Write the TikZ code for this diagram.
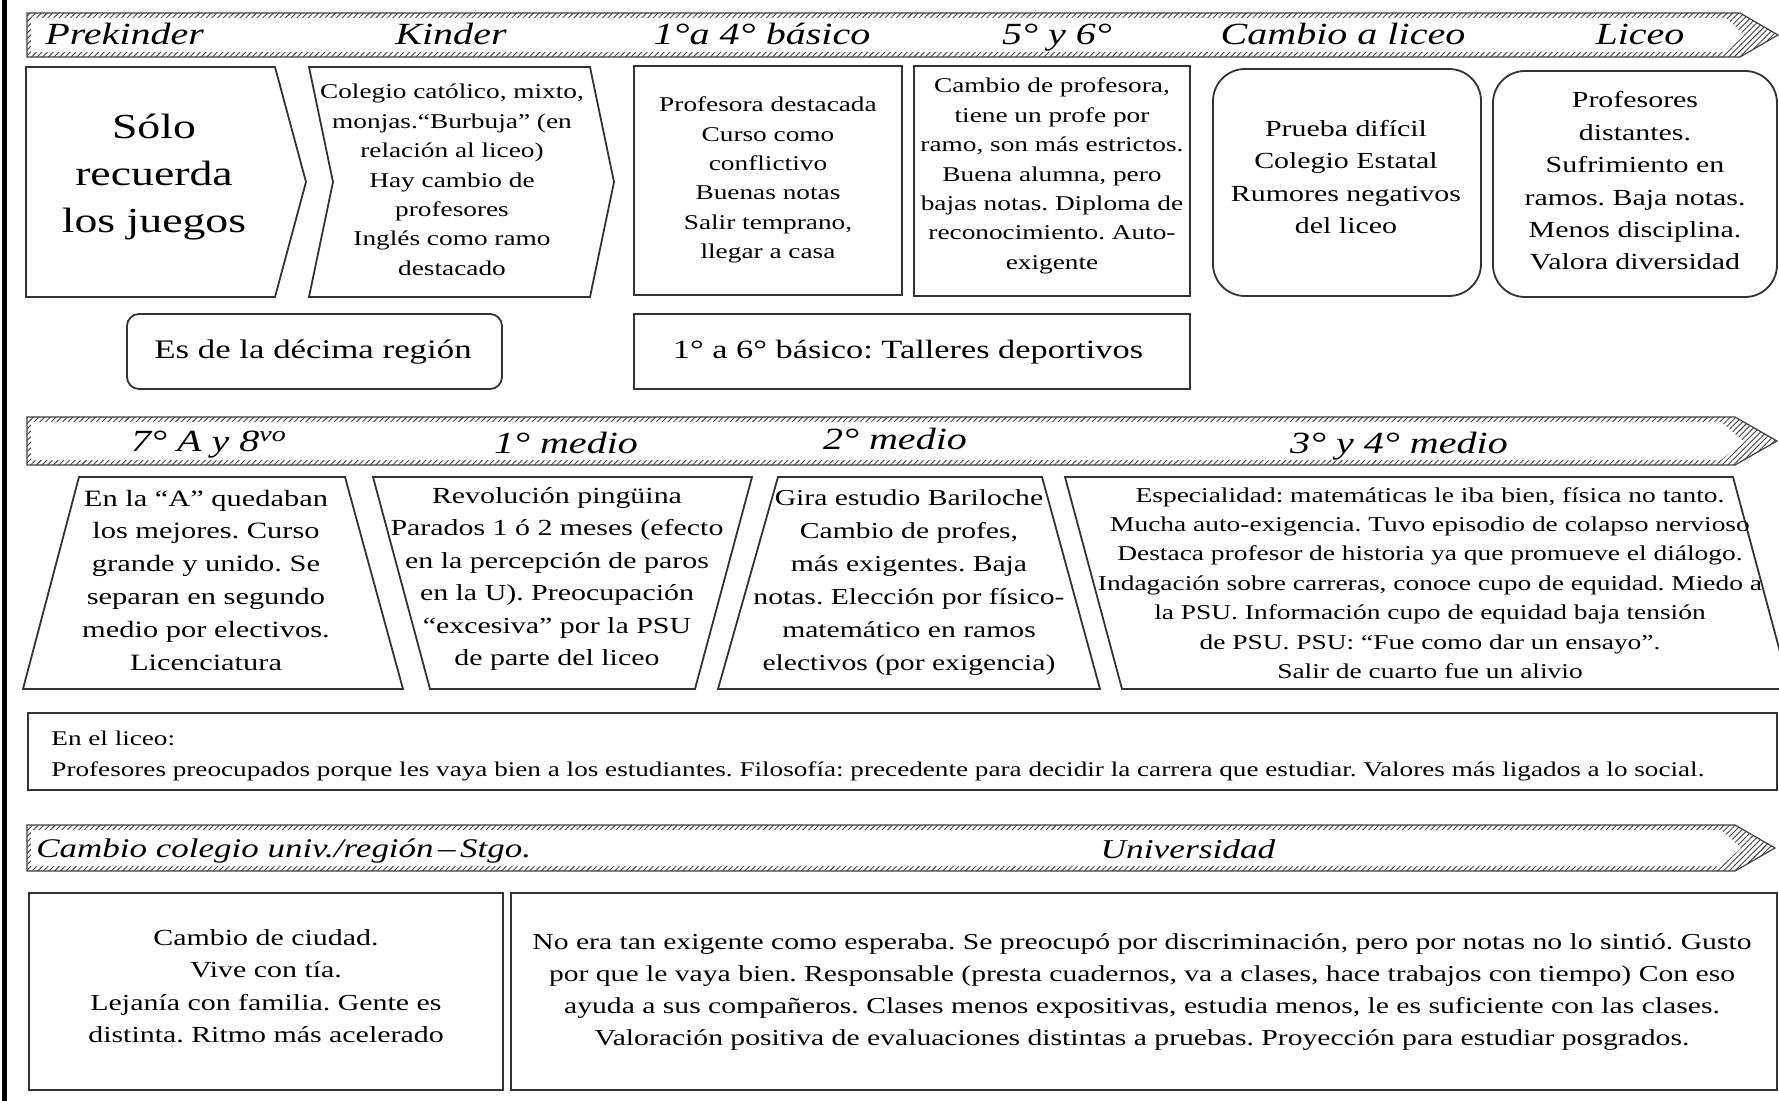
\documentclass[tikz,border=0pt]{standalone}
\usepackage{fontspec}
\setmainfont{Liberation Serif}[FakeStretch=1.3]
\usetikzlibrary{patterns.meta}
\frenchspacing

\begin{document}
\begin{tikzpicture}[x=0.5pt,y=-0.5pt,
  box/.style={draw=black!80,line width=0.9pt},
  band/.style={pattern={Lines[angle=45,distance=2pt,line width=0.45pt]},pattern color=black!75},
  head/.style={font=\fontsize{15.4}{18}\selectfont\itshape,inner sep=0pt,anchor=base},
  txt/.style={align=center,inner sep=0pt,font=\fontsize{10.5}{14.7}\selectfont},
  txtb/.style={align=center,inner sep=0pt,font=\fontsize{11.5}{16.2}\selectfont}]
\useasboundingbox (0,0) rectangle (1779,1101);
\draw[line width=2.5pt] (4.5,0) -- (4.5,1101);

% three time bands
\foreach \yt/\ym/\yb/\xe/\xt in {13/35/57/1740/1778, 417/441/465/1735/1777, 825/848/871/1735/1775}{
  \fill[band] (27,\yt) -- (\xe,\yt) -- (\xt,\ym) -- (\xe,\yb) -- (27,\yb) -- cycle;
  \fill[white] (31,\yt+5) -- (\xe-14,\yt+5) -- (\xt-34,\ym) -- (\xe-14,\yb-5) -- (31,\yb-5) -- cycle;
  \draw[black!75,line width=0.6pt] (27,\yt) -- (\xe,\yt) -- (\xt,\ym) -- (\xe,\yb) -- (27,\yb) -- cycle;
}

% headings
\node[head,anchor=base west] (hprek) at (45,45) {Prekinder};
\node[head] (hkinder) at (451,45) {Kinder};
\node[head] (hbasico) at (762,45) {1°a 4° básico};
\node[head] (hquinto) at (1057,45) {5° y 6°};
\node[head] (hcambio) at (1343,45) {Cambio a liceo};
\node[head] (hliceo) at (1640,45) {Liceo};
\node[head] (hsept) at (209,452) {7° A y 8\textsuperscript{vo}};
\node[head] (hprim) at (566,454) {1° medio};
\node[head] (hseg) at (895,450) {2° medio};
\node[head] (hterc) at (1399,454) {3° y 4° medio};
\node[head,anchor=base west,font=\fontsize{13.45}{16}\selectfont\itshape] (hcol) at (36,857) {Cambio colegio univ./región\,–\,Stgo.};
\node[head,font=\fontsize{13.6}{16}\selectfont\itshape] (huniv) at (1188,858) {Universidad};

% row 1
\draw[box] (26,67) -- (275,67) -- (306,182) -- (275,297) -- (26,297) -- cycle;
\draw[box] (309,67) -- (590,67) -- (614,182) -- (590,297) -- (309,297) -- (333,182) -- cycle;
\draw[box] (634,66) rectangle (902,295);
\draw[box] (914,66) rectangle (1190,296);
\draw[box,rounded corners=16pt] (1213,69) rectangle (1481,296);
\draw[box,rounded corners=16pt] (1493,71) rectangle (1777,297);
\draw[box,rounded corners=6pt] (127,314) rectangle (502,389);
\draw[box] (634,314) rectangle (1190,389);

\node[txt,font=\fontsize{17.6}{23.3}\selectfont] (solo) at (154,177) {Sólo\\recuerda\\los juegos};
\node[txt] (kinder) at (452,180) {Colegio católico, mixto,\\monjas.“Burbuja” (en\\relación al liceo)\\Hay cambio de\\profesores\\Inglés como ramo\\destacado};
\node[txt] (basico) at (768,180) {Profesora destacada\\Curso como\\conflictivo\\Buenas notas\\Salir temprano,\\llegar a casa};
\node[txt] (quinto) at (1052,176) {Cambio de profesora,\\tiene un profe por\\ramo, son más estrictos.\\Buena alumna, pero\\bajas notas. Diploma de\\reconocimiento. Auto-\\exigente};
\node[txtb] (cambio) at (1346,177) {Prueba difícil\\Colegio Estatal\\Rumores negativos\\del liceo};
\node[txtb] (liceo) at (1635,181) {Profesores\\distantes.\\Sufrimiento en\\ramos. Baja notas.\\Menos disciplina.\\Valora diversidad};
\node[txt,font=\fontsize{13.4}{16}\selectfont] (region) at (313,352) {Es de la décima región};
\node[txt,font=\fontsize{13.2}{16}\selectfont] (talleres) at (908,352) {1° a 6° básico: Talleres deportivos};

% row 2
\draw[box] (79,477) -- (345,477) -- (403,689) -- (23,689) -- cycle;
\draw[box] (373,477) -- (752,477) -- (695,689) -- (430,689) -- cycle;
\draw[box] (778,477) -- (1042,477) -- (1100,689) -- (718,689) -- cycle;
\draw[box] (1065,477) -- (1733,477) -- (1790,689) -- (1122,689) -- cycle;

\node[txtb,font=\fontsize{11.7}{16.4}\selectfont] (septimo) at (206,580) {En la “A” quedaban\\los mejores. Curso\\grande y unido. Se\\separan en segundo\\medio por electivos.\\Licenciatura};
\node[txtb] (primero) at (557,579) {Revolución pingüina\\Parados 1 ó 2 meses (efecto\\en la percepción de paros\\en la U). Preocupación\\“excesiva” por la PSU\\de parte del liceo};
\node[txtb,font=\fontsize{11.4}{16.5}\selectfont] (segundo) at (909,583) {Gira estudio Bariloche\\Cambio de profes,\\más exigentes. Baja\\notas. Elección por físico-\\matemático en ramos\\electivos (por exigencia)};
\node[txt,font=\fontsize{10.55}{14.7}\selectfont] (tercero) at (1430,583) {Especialidad: matemáticas le iba bien, física no tanto.\\Mucha auto-exigencia. Tuvo episodio de colapso nervioso\\Destaca profesor de historia ya que promueve el diálogo.\\Indagación sobre carreras, conoce cupo de equidad. Miedo a\\la PSU. Información cupo de equidad baja tensión\\de PSU. PSU: “Fue como dar un ensayo”.\\Salir de cuarto fue un alivio};

\draw[box] (28,713) rectangle (1777,790);
\node[txt,align=left,anchor=west,font=\fontsize{10.45}{15.5}\selectfont] (liceonota) at (51,756) {En el liceo:\\Profesores preocupados porque les vaya bien a los estudiantes. Filosofía: precedente para decidir la carrera que estudiar. Valores más ligados a lo social.};

% row 3
\draw[box] (29,893) rectangle (503,1090);
\draw[box] (511,893) rectangle (1777,1090);
\node[txtb] (ciudad) at (266,986) {Cambio de ciudad.\\Vive con tía.\\Lejanía con familia. Gente es\\distinta. Ritmo más acelerado};
\node[txt,font=\fontsize{11.4}{16}\selectfont] (univ) at (1142,992) {No era tan exigente como esperaba. Se preocupó por discriminación, pero por notas no lo sintió. Gusto\\por que le vaya bien. Responsable (presta cuadernos, va a clases, hace trabajos con tiempo) Con eso\\ayuda a sus compañeros. Clases menos expositivas, estudia menos, le es suficiente con las clases.\\Valoración positiva de evaluaciones distintas a pruebas. Proyección para estudiar posgrados.};
\end{tikzpicture}
\end{document}
